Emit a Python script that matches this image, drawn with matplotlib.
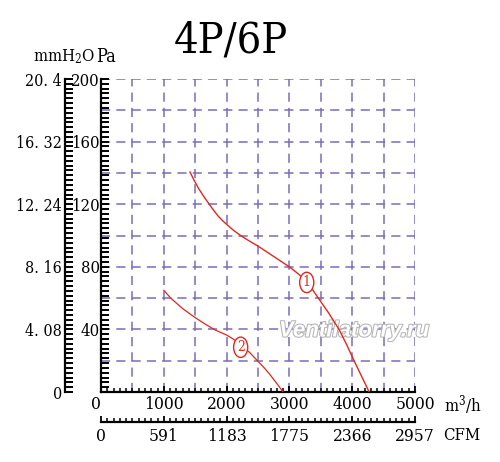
import matplotlib
matplotlib.use("Agg")
import matplotlib.pyplot as plt
import matplotlib.patheffects as pe
from matplotlib.patches import Ellipse
from matplotlib.ticker import MultipleLocator

# curve 1 (4P) and curve 2 (6P): airflow [m3/h] vs static pressure [Pa]
q1 = [1417, 1480, 1549, 1630, 1709, 1790, 1868, 1940, 2017, 2120, 2240, 2370,
      2505, 2750, 3009, 3150, 3276, 3370, 3461, 3620, 3790, 3910, 4030, 4150,
      4270]
p1 = [140.6, 135.5, 130.4, 125.3, 120.8, 116.3, 112.3, 109.3, 106.5, 103.0,
      99.5, 96.3, 93.1, 86.6, 79.7, 75.2, 70, 65.3, 60, 50.8, 40, 30.4, 20, 10,
      0]
q2 = [1000, 1110, 1300, 1497, 1650, 1815, 2000, 2107, 2224, 2373, 2490, 2600,
      2691, 2800, 2900]
p2 = [65, 60, 53.3, 47.6, 43.6, 39.7, 36.4, 33.8, 30.3, 25.0, 20, 15.4, 11.1,
      5.4, 0]

# curve tags
tag_q = [3276, 2224]
tag_p = [70, 28.6]
tag_txt = ["1", "2"]

q_ticks = [0, 1000, 2000, 3000, 4000, 5000]
cfm_labels = ["0", "591", "1183", "1775", "2366", "2957"]
pa_ticks = [0, 40, 80, 120, 160, 200]
pa_labels = ["", "40", "80", "120", "160", "200"]
mm_labels = ["0", "4. 08", "8. 16", "12. 24", "16. 32", "20. 4"]

red = "#e0281e"
grid_c = "#7d6bb8"
plt.rcParams["font.family"] = "DejaVu Serif"
plt.rcParams["font.stretch"] = "condensed"

fig = plt.figure(figsize=(5, 4.62), dpi=100)
ax = fig.add_axes([0.202, 0.1515, 0.628, 0.6775])
ax.set_xlim(0, 5000)
ax.set_ylim(0, 200)

# dashed grid, top/right edges included
for x in range(500, 5001, 500):
    ax.axvline(x, color=grid_c, lw=1.1, ls=(0, (6, 4)), zorder=1)
for y in range(20, 201, 20):
    ax.axhline(y, color=grid_c, lw=1.1, ls=(0, (6, 4)), zorder=1)

ax.plot(q1, p1, color=red, lw=1.0, zorder=4)
ax.plot(q2, p2, color=red, lw=0.9, zorder=4)

for q, p, t in zip(tag_q, tag_p, tag_txt):
    ax.add_patch(Ellipse((q, p), 225, 13, facecolor="white", edgecolor=red,
                         lw=1.0, zorder=5))
    ax.text(q, p, t, color=red, fontsize=10, ha="center", va="center",
            zorder=6)

for s in ["top", "right"]:
    ax.spines[s].set_visible(False)
for s in ["left", "bottom"]:
    ax.spines[s].set_linewidth(1.6)

# main axes: Pa and m3/h
ax.set_yticks(pa_ticks, labels=pa_labels)
ax.yaxis.set_minor_locator(MultipleLocator(40 / 13))
ax.tick_params(axis="y", which="both", direction="in", length=5.5, width=1.4,
               pad=1, labelsize=12)
ax.set_xticks(q_ticks, labels=[str(v) for v in q_ticks])
ax.xaxis.set_minor_locator(MultipleLocator(100))
ax.tick_params(axis="x", which="major", direction="in", length=4.5, width=1.3,
               pad=3, labelsize=12.5)
ax.tick_params(axis="x", which="minor", direction="in", length=3.2, width=1.1)
ax.get_xticklabels()[0].set_horizontalalignment("right")

# mmH2O scale
sy = ax.secondary_yaxis(-0.115)
sy.set_yticks(pa_ticks, labels=mm_labels)
sy.yaxis.set_minor_locator(MultipleLocator(40 / 13))
sy.tick_params(axis="y", which="both", direction="in", length=5.5, width=1.4,
               pad=2, labelsize=11.5)
sy.spines["left"].set_linewidth(1.6)

# CFM scale
sx = ax.secondary_xaxis(-0.096)
sx.set_xticks(q_ticks, labels=cfm_labels)
sx.xaxis.set_minor_locator(MultipleLocator(100))
sx.tick_params(axis="x", which="major", direction="in", length=4.5, width=1.3,
               pad=4, labelsize=12.5)
sx.tick_params(axis="x", which="minor", direction="in", length=3.2, width=1.1)
sx.spines["bottom"].set_linewidth(1.6)

fig.text(0.462, 0.913, "4P/6P", fontsize=31, ha="center", va="center")
fig.text(0.066, 0.877, "mmH$_2$O", fontsize=12, ha="left", va="center",
         math_fontfamily="dejavuserif")
fig.text(0.192, 0.877, "Pa", fontsize=13, ha="left", va="center")
fig.text(0.888, 0.123, "m$^3$/h", fontsize=12, ha="left", va="center",
         math_fontfamily="dejavuserif")
fig.text(0.886, 0.057, "CFM", fontsize=12, ha="left", va="center")

wm = ax.text(0.708, 0.2835, "Ventilatorry.ru", transform=fig.transFigure,
             fontsize=16, family="Liberation Sans", weight="bold",
             style="italic", color="white", ha="center", va="center", zorder=3)
wm.set_path_effects([pe.withStroke(linewidth=1.5, foreground="#b4b4b4")])

fig.savefig("out.png", dpi=100)
